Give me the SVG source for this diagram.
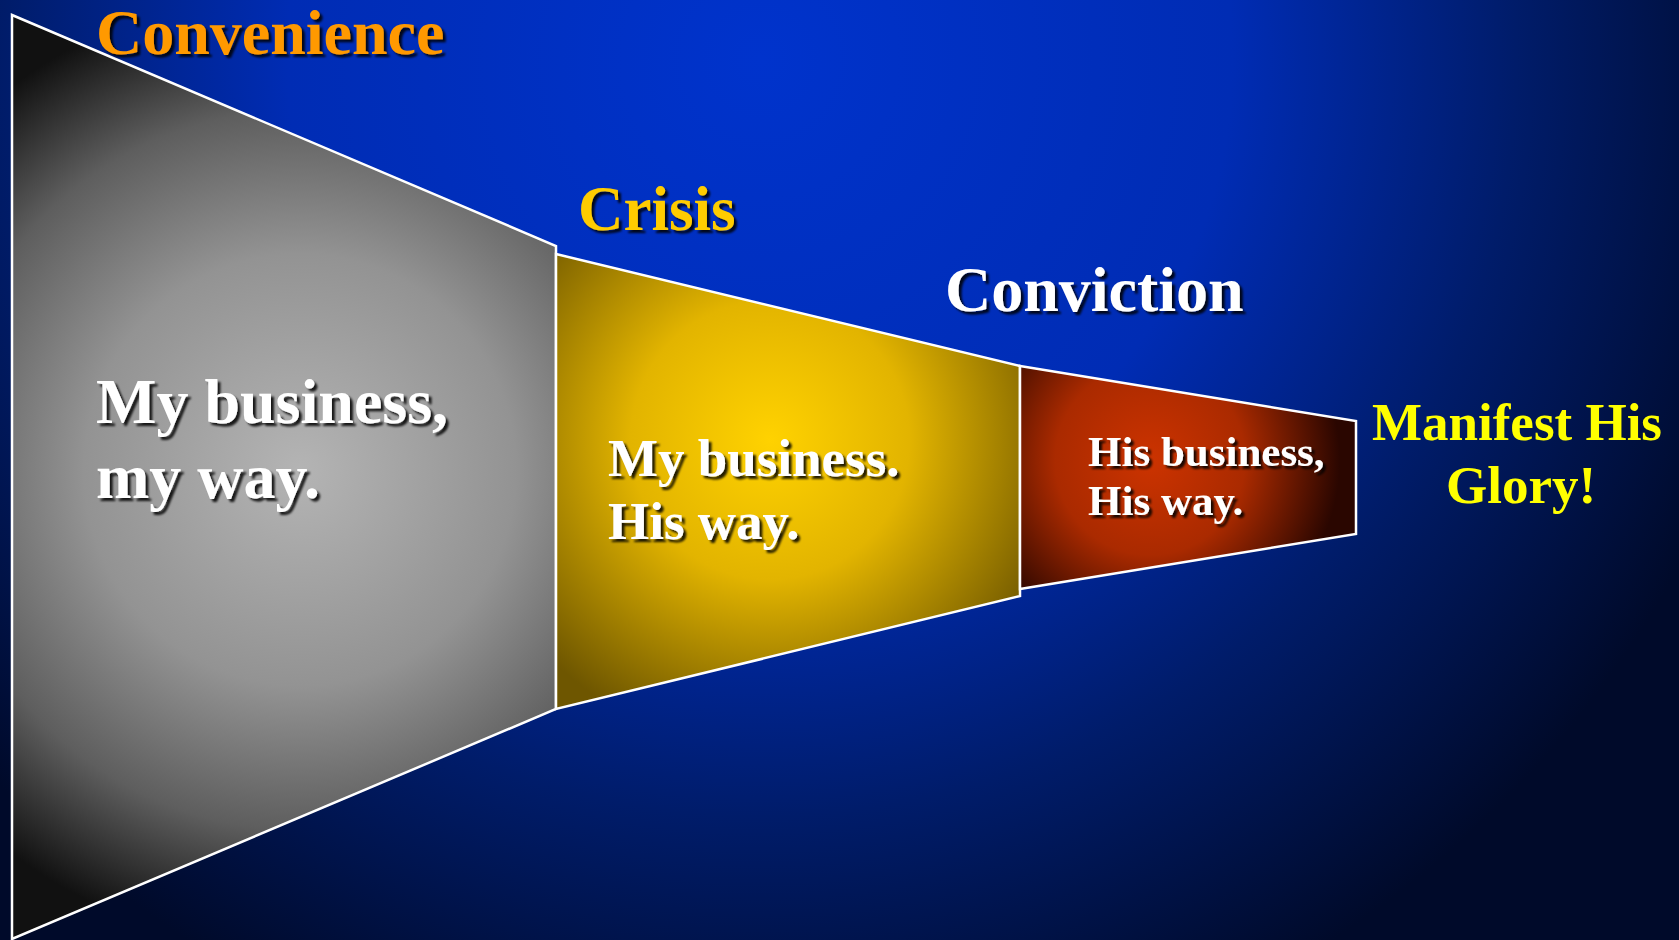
<svg xmlns="http://www.w3.org/2000/svg" width="1679" height="940" viewBox="0 0 1679 940">
<defs>
<radialGradient id="bg" gradientUnits="userSpaceOnUse" cx="760" cy="60" r="1050" gradientTransform="translate(760 60) scale(1 1.0) translate(-760 -60)">
<stop offset="0" stop-color="#0033cc"/>
<stop offset="0.45" stop-color="#002cb4"/>
<stop offset="0.72" stop-color="#001c6a"/>
<stop offset="1" stop-color="#000a2a"/>
</radialGradient>
<radialGradient id="gGray" gradientUnits="userSpaceOnUse" cx="300" cy="470" r="480">
<stop offset="0" stop-color="#b4b4b4"/>
<stop offset="0.45" stop-color="#939393"/>
<stop offset="0.75" stop-color="#5e5e5e"/>
<stop offset="1" stop-color="#111111"/>
</radialGradient>
<radialGradient id="gYellow" gradientUnits="userSpaceOnUse" cx="770" cy="440" r="310">
<stop offset="0" stop-color="#ffd200"/>
<stop offset="0.45" stop-color="#e2b400"/>
<stop offset="1" stop-color="#6e5600"/>
</radialGradient>
<radialGradient id="gRed" gradientUnits="userSpaceOnUse" cx="1150" cy="460" r="190">
<stop offset="0" stop-color="#cc3300"/>
<stop offset="0.5" stop-color="#aa2a00"/>
<stop offset="1" stop-color="#2a0600"/>
</radialGradient>
<filter id="sh" x="-10%" y="-20%" width="130%" height="150%">
<feDropShadow dx="3" dy="3" stdDeviation="1.2" flood-color="#000" flood-opacity="0.85"/>
</filter>
</defs>
<style>
.seg{stroke:#ffffff;stroke-width:2.5;stroke-linejoin:miter}
.t{font-family:"Liberation Serif","Times New Roman",serif;font-weight:bold}
.w{fill:#ffffff;filter:url(#sh)}
</style>
<rect width="1679" height="940" fill="url(#bg)"/>
<g id="connectors"></g>
<g id="node-convenience">
<polygon class="seg" points="12,15 556,246 556,709 12,939" fill="url(#gGray)"/>
<text class="t w" x="96" y="423" font-size="64">My business,</text>
<text class="t w" x="96" y="498" font-size="64">my way.</text>
</g>
<g id="node-crisis">
<polygon class="seg" points="556,254 1020,366 1020,596 556,709" fill="url(#gYellow)"/>
<text class="t w" x="608" y="476" font-size="53">My business.</text>
<text class="t w" x="608" y="539" font-size="53">His way.</text>
</g>
<g id="node-conviction">
<polygon class="seg" points="1020,366 1356,421 1356,534 1020,589" fill="url(#gRed)"/>
<text class="t w" x="1088" y="466" font-size="43">His business,</text>
<text class="t w" x="1088" y="515" font-size="43">His way.</text>
</g>
<g id="labels">
<text class="t" x="96" y="54" font-size="64" fill="#ff9900" filter="url(#sh)">Convenience</text>
<text class="t" x="578" y="230" font-size="63" fill="#ffcc00" filter="url(#sh)">Crisis</text>
<text class="t" x="945" y="311" font-size="64" fill="#ffffff" filter="url(#sh)">Conviction</text>
<text class="t" x="1517" y="440" font-size="53" fill="#ffff00" text-anchor="middle">Manifest His</text>
<text class="t" x="1521" y="503" font-size="53" fill="#ffff00" text-anchor="middle">Glory!</text>
</g>
</svg>
